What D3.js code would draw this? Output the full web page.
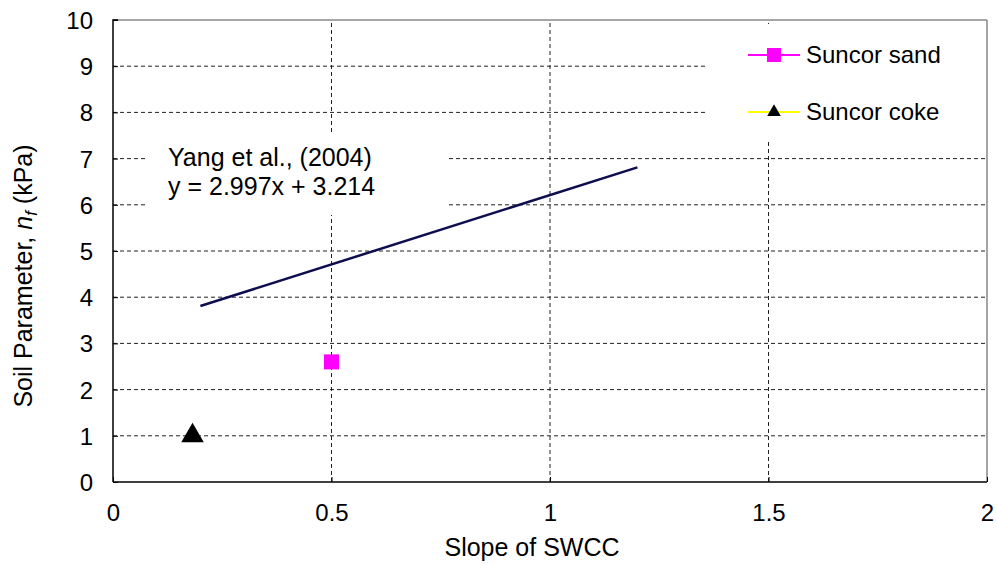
<!DOCTYPE html>
<html>
<head>
<meta charset="utf-8">
<script src="https://cdn.jsdelivr.net/npm/d3@7"></script>
<style>
  body { margin: 0; background: #fff; }
  text { font-family: "Liberation Sans", Arial, sans-serif; fill: #000; }
</style>
</head>
<body>
<svg width="997" height="564"></svg>
<script>
var width = 997, height = 564;

// data
var sandX = [0.5], sandY = [2.6];
var cokeX = [0.182], cokeY = [1.0];
var fitX = [0.2, 1.2], fitY = [3.81, 6.81];
var xTicks = [0, 0.5, 1, 1.5, 2];
var yTicks = [0, 1, 2, 3, 4, 5, 6, 7, 8, 9, 10];
var legendNames = ["Suncor sand", "Suncor coke"];

var fs = "24px";
var svg = d3.select("svg");

var x = d3.scaleLinear().domain([0, 2]).range([113, 987]);
var y = d3.scaleLinear().domain([0, 10]).range([482, 20]);

// grid lines
svg.append("g").selectAll("line")
    .data(yTicks.filter(d => d > 0 && d < 10))
    .enter().append("line")
    .attr("x1", x(0)).attr("x2", x(2))
    .attr("y1", d => y(d)).attr("y2", d => y(d))
    .attr("stroke", "#222").attr("stroke-width", 1)
    .attr("stroke-dasharray", "4,3");

svg.append("g").selectAll("line")
    .data(xTicks.filter(d => d > 0 && d < 2))
    .enter().append("line")
    .attr("x1", d => x(d)).attr("x2", d => x(d))
    .attr("y1", y(0)).attr("y2", y(10))
    .attr("stroke", "#222").attr("stroke-width", 1)
    .attr("stroke-dasharray", "4,3");

// white boxes behind annotation and legend
svg.append("rect").attr("x", 146).attr("y", 133).attr("width", 300).attr("height", 82).attr("fill", "#fff");
svg.append("rect").attr("x", 708).attr("y", 24).attr("width", 278).attr("height", 117).attr("fill", "#fff");

// frame
svg.append("line").attr("x1", x(0)).attr("x2", x(2)).attr("y1", y(10)).attr("y2", y(10))
    .attr("stroke", "#888").attr("stroke-width", 1.5);
svg.append("line").attr("x1", x(2)).attr("x2", x(2)).attr("y1", y(10)).attr("y2", y(0))
    .attr("stroke", "#888").attr("stroke-width", 1.5);

// axes
var yAxis = d3.axisLeft(y).tickValues(yTicks).tickSize(5).tickFormat(d3.format("d"));
var gy = svg.append("g").attr("transform", "translate(" + x(0) + ",0)").call(yAxis);
gy.select(".domain").attr("stroke", "#000").attr("stroke-width", 1.5).attr("d", "M0," + y(0) + "V" + y(10) + "H5");
gy.selectAll(".tick line").attr("x2", 5).attr("stroke", "#000");
gy.selectAll(".tick text").attr("x", -20).attr("dy", "0.35em")
    .style("font-size", fs).style("font-family", "Liberation Sans, Arial, sans-serif");

var xAxis = d3.axisBottom(x).tickValues(xTicks).tickSize(0).tickFormat(d => d);
var gx = svg.append("g").attr("transform", "translate(0," + y(0) + ")").call(xAxis);
gx.select(".domain").attr("stroke", "#000").attr("stroke-width", 1.5).attr("d", "M" + x(0) + ",0H" + x(2));
gx.selectAll(".tick line").attr("y2", -5).attr("stroke", "#000");
gx.selectAll(".tick text").attr("y", 22).attr("dy", "0.71em")
    .style("font-size", fs).style("font-family", "Liberation Sans, Arial, sans-serif");

// axis titles
svg.append("text").attr("x", 532).attr("y", 556).attr("text-anchor", "middle")
    .style("font-size", "25px").text("Slope of SWCC");

var yt = svg.append("text").attr("transform", "translate(32,276) rotate(-90)")
    .attr("text-anchor", "middle").style("font-size", "25px");
yt.append("tspan").text("Soil Parameter, ");
yt.append("tspan").style("font-style", "italic").text("n");
yt.append("tspan").style("font-style", "italic").style("font-size", "17px").attr("dy", 5).text("f");
yt.append("tspan").attr("dy", -5).text(" (kPa)");

// fitted line
var line = d3.line().x(d => x(d[0])).y(d => y(d[1]));
svg.append("path").datum(fitX.map((d, i) => [d, fitY[i]]))
    .attr("d", line).attr("fill", "none")
    .attr("stroke", "#0d0d4f").attr("stroke-width", 2.5);

svg.append("text").attr("x", 168).attr("y", 166).style("font-size", "25px").text("Yang et al., (2004)");
svg.append("text").attr("x", 168).attr("y", 195).style("font-size", "25px").text("y = 2.997x + 3.214");

// points
svg.append("g").selectAll("rect")
    .data(sandX.map((d, i) => [d, sandY[i]]))
    .enter().append("rect")
    .attr("x", d => x(d[0]) - 7.5).attr("y", d => y(d[1]) - 7.5)
    .attr("width", 15).attr("height", 15).attr("fill", "#ff00ff");

svg.append("g").selectAll("path")
    .data(cokeX.map((d, i) => [d, cokeY[i]]))
    .enter().append("path")
    .attr("transform", d => "translate(" + x(d[0]) + "," + y(d[1]) + ")")
    .attr("d", d3.symbol().type(d3.symbolTriangle).size(220))
    .attr("fill", "#000");

// legend
var lg = svg.append("g").attr("transform", "translate(748,55)");
lg.append("line").attr("x1", 0).attr("x2", 52).attr("y1", 0).attr("y2", 0)
    .attr("stroke", "#ff00ff").attr("stroke-width", 2);
lg.append("rect").attr("x", 19).attr("y", -7).attr("width", 14).attr("height", 14).attr("fill", "#ff00ff");
lg.append("text").attr("x", 58).attr("y", 0).attr("dy", "0.35em").style("font-size", fs).text(legendNames[0]);

var lg2 = svg.append("g").attr("transform", "translate(748,112)");
lg2.append("line").attr("x1", 0).attr("x2", 52).attr("y1", 0).attr("y2", 0)
    .attr("stroke", "#ffff00").attr("stroke-width", 2);
lg2.append("path").attr("transform", "translate(26,0)")
    .attr("d", d3.symbol().type(d3.symbolTriangle).size(80)).attr("fill", "#000");
lg2.append("text").attr("x", 58).attr("y", 0).attr("dy", "0.35em").style("font-size", fs).text(legendNames[1]);
</script>
</body>
</html>
